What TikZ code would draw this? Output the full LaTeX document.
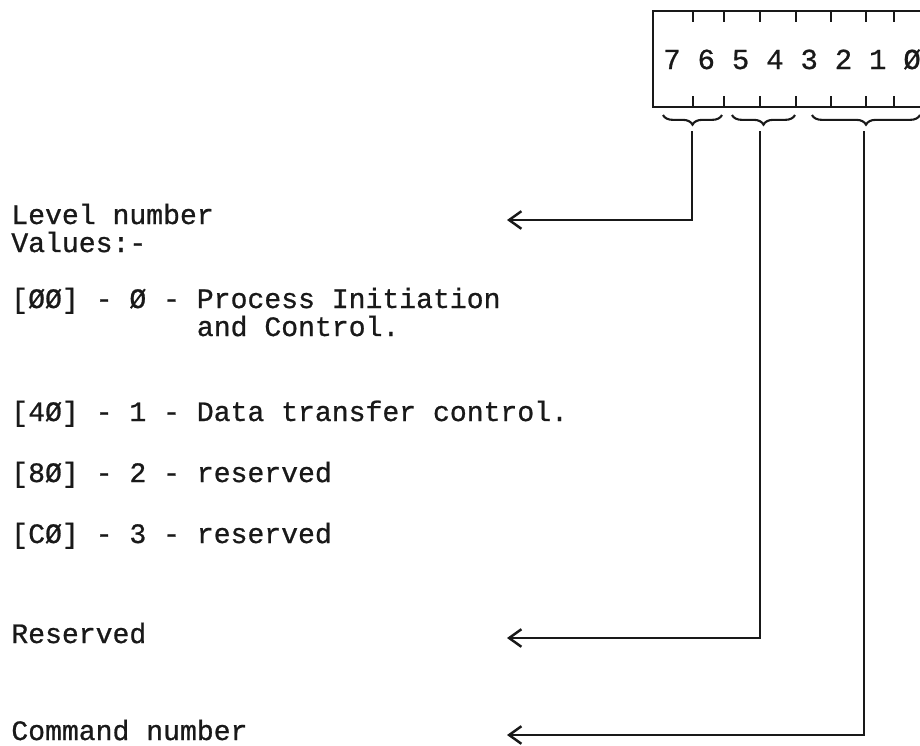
\documentclass[tikz,border=0pt]{standalone}
\usepackage{fontspec}
\setmainfont{Liberation Mono}[BoldFont={Liberation Mono}, BoldFeatures={FakeBold=0.8}]
\usepackage{tikz}
\usetikzlibrary{positioning,arrows.meta,decorations.pathreplacing}
\definecolor{TypeInk}{RGB}{25,25,25}
\tikzset{
  txt/.style={anchor=base west, inner sep=0pt, text=TypeInk,
    font=\fontsize{16}{19}\selectfont\bfseries},
  bit/.style={anchor=base, inner sep=0pt, text=TypeInk,
    font=\fontsize{16.5}{19}\selectfont\bfseries},
  box/.style={draw=TypeInk, line width=1.3pt},
  brc/.style={draw=TypeInk, line width=1.2pt, decorate,
    decoration={brace, mirror, amplitude=5.5pt}},
  conn/.style={draw=TypeInk, line width=1.4pt,
    -{Straight Barb[length=7pt, width=10pt]}}
}

\begin{document}
\begin{tikzpicture}[x=0.02cm, y=0.02cm]
  \useasboundingbox (0,0) rectangle (920,-745);
  \clip (0,0) rectangle (920,-745);

  % register with bit numbers
  \draw[box] (653,-11) rectangle (940,-107);
  \foreach \x in {693,724,760,796,831,866,894} {
    \draw[box] (\x,-11) -- ++(0,-11);
    \draw[box] (\x,-107) -- ++(0,11);
  }
  \foreach \b [count=\i from 0] in {7,6,5,4,3,2,1,Ø}
    \node[bit] (b\i) at (672+\i*34.3,-69) {\b};

  % field braces
  \draw[brc] (663,-115) -- (722,-115);
  \draw[brc] (732,-115) -- (795,-115);
  \draw[brc] (812,-115) -- (920,-115);
  \coordinate (lvtop) at (692,-131);
  \coordinate (rstop) at (760,-131);
  \coordinate (cmtop) at (864,-131);

  % descriptions
  \node[txt] (lvl) at (11,-224) {Level number};
  \node[txt] (vals) at (11,-252) {Values:-};
  \node[txt] (v0) at (11,-308) {[ØØ] - Ø - Process Initiation};
  \node[txt] (v0b) at (11,-336) {\hphantom{[ØØ] - Ø - }and Control.};
  \node[txt] (v1) at (11,-421) {[4Ø] - 1 - Data transfer control.};
  \node[txt] (v2) at (11,-482) {[8Ø] - 2 - reserved};
  \node[txt] (v3) at (11,-543) {[CØ] - 3 - reserved};
  \node[txt] (rsv) at (11,-643) {Reserved};
  \node[txt] (cmd) at (11,-740) {Command number};

  % connectors
  \coordinate (lvtip) at (507,-220);
  \coordinate (rstip) at (507,-638);
  \coordinate (cmtip) at (507,-735);
  \draw[conn] (lvtop) |- (lvtip);
  \draw[conn] (rstop) |- (rstip);
  \draw[conn] (cmtop) |- (cmtip);
\end{tikzpicture}
\end{document}
